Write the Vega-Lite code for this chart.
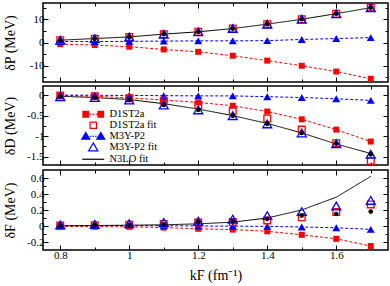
{
  "$schema": "https://vega.github.io/schema/vega-lite/v6.json",
  "padding": {"left": 2, "top": 0, "right": 2, "bottom": 2},
  "background": "white",
  "config": {
    "view": {"stroke": "black", "strokeWidth": 1.5},
    "font": "Liberation Serif",
    "axis": {"domain": false, "grid": false, "tickColor": "black", "tickWidth": 1, "labelColor": "black", "labelFont": "Liberation Serif", "labelFontSize": 11, "titleFont": "Liberation Serif", "titleFontSize": 14, "titleFontWeight": "normal", "titleColor": "black", "labelOverlap": false, "labelFlush": false}
  },
  "data": {"values": [
    {"p": "P", "x": 0.8, "D1ST2a": -0.7, "D1ST2a fit": 1.0, "M3Y-P2": 0.4, "M3Y-P2 fit": 1.0, "N3LO fit": 1.0, "N3LO": 1.0},
    {"p": "P", "x": 0.9, "D1ST2a": -1.1, "D1ST2a fit": 1.6, "M3Y-P2": 0.4, "M3Y-P2 fit": 1.7, "N3LO fit": 1.7, "N3LO": 1.7},
    {"p": "P", "x": 1.0, "D1ST2a": -1.8, "D1ST2a fit": 2.4, "M3Y-P2": 0.5, "M3Y-P2 fit": 2.4, "N3LO fit": 2.4, "N3LO": 2.4},
    {"p": "P", "x": 1.1, "D1ST2a": -3.0, "D1ST2a fit": 3.5, "M3Y-P2": 0.6, "M3Y-P2 fit": 3.6, "N3LO fit": 3.6, "N3LO": 3.6},
    {"p": "P", "x": 1.2, "D1ST2a": -4.0, "D1ST2a fit": 4.6, "M3Y-P2": 0.7, "M3Y-P2 fit": 4.6, "N3LO fit": 4.6, "N3LO": 4.6},
    {"p": "P", "x": 1.3, "D1ST2a": -5.7, "D1ST2a fit": 6.0, "M3Y-P2": 0.7, "M3Y-P2 fit": 6.0, "N3LO fit": 6.0, "N3LO": 6.0},
    {"p": "P", "x": 1.4, "D1ST2a": -7.8, "D1ST2a fit": 7.9, "M3Y-P2": 0.8, "M3Y-P2 fit": 7.9, "N3LO fit": 7.9, "N3LO": 7.9},
    {"p": "P", "x": 1.5, "D1ST2a": -10.0, "D1ST2a fit": 10.0, "M3Y-P2": 1.3, "M3Y-P2 fit": 10.0, "N3LO fit": 10.0, "N3LO": 10.0},
    {"p": "P", "x": 1.6, "D1ST2a": -12.5, "D1ST2a fit": 12.4, "M3Y-P2": 1.7, "M3Y-P2 fit": 12.4, "N3LO fit": 12.4, "N3LO": 12.4},
    {"p": "P", "x": 1.7, "D1ST2a": -15.6, "D1ST2a fit": 15.0, "M3Y-P2": 2.1, "M3Y-P2 fit": 15.0, "N3LO fit": 15.0, "N3LO": 15.0},
    {"p": "D", "x": 0.8, "D1ST2a": -0.01, "D1ST2a fit": -0.01, "M3Y-P2": 0.0, "M3Y-P2 fit": -0.04, "N3LO fit": -0.03, "N3LO": -0.04},
    {"p": "D", "x": 0.9, "D1ST2a": -0.03, "D1ST2a fit": -0.03, "M3Y-P2": -0.005, "M3Y-P2 fit": -0.06, "N3LO fit": -0.06, "N3LO": -0.06},
    {"p": "D", "x": 1.0, "D1ST2a": -0.07, "D1ST2a fit": -0.08, "M3Y-P2": -0.01, "M3Y-P2 fit": -0.12, "N3LO fit": -0.11, "N3LO": -0.12},
    {"p": "D", "x": 1.1, "D1ST2a": -0.12, "D1ST2a fit": -0.14, "M3Y-P2": -0.015, "M3Y-P2 fit": -0.24, "N3LO fit": -0.21, "N3LO": -0.24},
    {"p": "D", "x": 1.2, "D1ST2a": -0.18, "D1ST2a fit": -0.24, "M3Y-P2": -0.02, "M3Y-P2 fit": -0.36, "N3LO fit": -0.34, "N3LO": -0.36},
    {"p": "D", "x": 1.3, "D1ST2a": -0.26, "D1ST2a fit": -0.38, "M3Y-P2": -0.02, "M3Y-P2 fit": -0.5, "N3LO fit": -0.5, "N3LO": -0.5},
    {"p": "D", "x": 1.4, "D1ST2a": -0.4, "D1ST2a fit": -0.57, "M3Y-P2": -0.04, "M3Y-P2 fit": -0.7, "N3LO fit": -0.69, "N3LO": -0.7},
    {"p": "D", "x": 1.5, "D1ST2a": -0.59, "D1ST2a fit": -0.84, "M3Y-P2": -0.06, "M3Y-P2 fit": -0.92, "N3LO fit": -0.92, "N3LO": -0.92},
    {"p": "D", "x": 1.6, "D1ST2a": -0.84, "D1ST2a fit": -1.17, "M3Y-P2": -0.09, "M3Y-P2 fit": -1.18, "N3LO fit": -1.19, "N3LO": -1.18},
    {"p": "D", "x": 1.7, "D1ST2a": -1.13, "D1ST2a fit": -1.6, "M3Y-P2": -0.13, "M3Y-P2 fit": -1.44, "N3LO fit": -1.42, "N3LO": -1.44},
    {"p": "F", "x": 0.8, "D1ST2a": -0.005, "D1ST2a fit": 0.005, "M3Y-P2": 0.005, "M3Y-P2 fit": 0.012, "N3LO fit": 0.003, "N3LO": 0.005},
    {"p": "F", "x": 0.9, "D1ST2a": -0.008, "D1ST2a fit": 0.01, "M3Y-P2": 0.005, "M3Y-P2 fit": 0.02, "N3LO fit": 0.006, "N3LO": 0.01},
    {"p": "F", "x": 1.0, "D1ST2a": -0.01, "D1ST2a fit": 0.015, "M3Y-P2": 0.005, "M3Y-P2 fit": 0.03, "N3LO fit": 0.01, "N3LO": 0.015},
    {"p": "F", "x": 1.1, "D1ST2a": -0.02, "D1ST2a fit": 0.025, "M3Y-P2": 0.004, "M3Y-P2 fit": 0.045, "N3LO fit": 0.015, "N3LO": 0.02},
    {"p": "F", "x": 1.2, "D1ST2a": -0.035, "D1ST2a fit": 0.045, "M3Y-P2": 0.0, "M3Y-P2 fit": 0.06, "N3LO fit": 0.027, "N3LO": 0.05},
    {"p": "F", "x": 1.3, "D1ST2a": -0.045, "D1ST2a fit": 0.05, "M3Y-P2": -0.002, "M3Y-P2 fit": 0.086, "N3LO fit": 0.048, "N3LO": 0.06},
    {"p": "F", "x": 1.4, "D1ST2a": -0.066, "D1ST2a fit": 0.07, "M3Y-P2": -0.005, "M3Y-P2 fit": 0.13, "N3LO fit": 0.1, "N3LO": 0.09},
    {"p": "F", "x": 1.5, "D1ST2a": -0.11, "D1ST2a fit": 0.11, "M3Y-P2": -0.012, "M3Y-P2 fit": 0.18, "N3LO fit": 0.2, "N3LO": 0.13},
    {"p": "F", "x": 1.6, "D1ST2a": -0.16, "D1ST2a fit": 0.175, "M3Y-P2": -0.022, "M3Y-P2 fit": 0.25, "N3LO fit": 0.36, "N3LO": 0.15},
    {"p": "F", "x": 1.7, "D1ST2a": -0.25, "D1ST2a fit": 0.27, "M3Y-P2": -0.042, "M3Y-P2 fit": 0.32, "N3LO fit": 0.62, "N3LO": 0.18}
  ]},
  "transform": [{"fold": ["D1ST2a", "D1ST2a fit", "M3Y-P2", "M3Y-P2 fit", "N3LO fit", "N3LO"], "as": ["s", "y"]}],
  "spacing": 0,
  "vconcat": [
    {
      "width": 345, "height": 79,
      "transform": [{"filter": "datum.p == 'P'"}],
      "resolve": {"axis": {"x": "independent", "y": "independent"}},
      "layer": [
        {
          "transform": [{"filter": "indexof(['D1ST2a','M3Y-P2','N3LO fit'], datum.s) >= 0"}],
          "mark": {"type": "line", "strokeWidth": 1},
          "encoding": {
            "x": {"field": "x", "type": "quantitative", "scale": {"domain": [0.75, 1.75], "nice": false, "zero": false},
                  "axis": {"orient": "bottom", "values": [0.8, 0.9, 1.0, 1.1, 1.2, 1.3, 1.4, 1.5, 1.6, 1.7], "tickSize": {"condition": {"test": "round(datum.value*10)%2==0", "value": -5}, "value": -3}, "labels": false, "title": null}},
            "y": {"field": "y", "type": "quantitative", "scale": {"domain": [-17, 17], "nice": false, "zero": false},
                  "axis": {"orient": "left", "values": [-15, -10, -5, 0, 5, 10, 15], "tickSize": {"condition": {"test": "datum.value%10==0", "value": -5}, "value": -3}, "labelExpr": "datum.value%10==0 ? '' + datum.value : ''", "labelFontSize": {"condition": {"test": "datum.value%10==0", "value": 11}, "value": 0}, "labelPadding": 4, "minExtent": 21, "maxExtent": 21, "title": "δP (MeV)", "titlePadding": 5}},
            "color": {"field": "s", "type": "nominal", "scale": {"domain": ["D1ST2a", "M3Y-P2", "N3LO fit"], "range": ["#ff0000", "#0000ff", "#000000"]}, "legend": null},
            "strokeDash": {"field": "s", "type": "nominal", "scale": {"domain": ["D1ST2a", "M3Y-P2", "N3LO fit"], "range": [[3, 2], [3, 2], [1, 0]]}, "legend": null}
          }
        },
        {
          "transform": [{"filter": "datum.s == 'D1ST2a'"}],
          "mark": {"type": "square", "size": 36, "color": "#ff0000", "opacity": 1},
          "encoding": {
            "x": {"field": "x", "type": "quantitative", "axis": {"orient": "top", "values": [0.8, 0.9, 1.0, 1.1, 1.2, 1.3, 1.4, 1.5, 1.6, 1.7], "tickSize": {"condition": {"test": "round(datum.value*10)%2==0", "value": -5}, "value": -3}, "labels": false, "title": null}},
            "y": {"field": "y", "type": "quantitative", "axis": {"orient": "right", "values": [-15, -10, -5, 0, 5, 10, 15], "tickSize": {"condition": {"test": "datum.value%10==0", "value": -5}, "value": -3}, "labels": false, "title": null, "minExtent": 0, "maxExtent": 0}}
          }
        },
        {
          "transform": [{"filter": "datum.s == 'M3Y-P2'"}],
          "mark": {"type": "point", "shape": "triangle-up", "size": 64, "filled": true, "color": "#0000ff", "opacity": 1},
          "encoding": {"x": {"field": "x", "type": "quantitative", "axis": null}, "y": {"field": "y", "type": "quantitative", "axis": null}}
        },
        {
          "transform": [{"filter": "datum.s == 'D1ST2a fit'"}],
          "mark": {"type": "point", "shape": "square", "size": 45, "filled": false, "color": "#ff0000", "strokeWidth": 1.3, "opacity": 1},
          "encoding": {"x": {"field": "x", "type": "quantitative", "axis": null}, "y": {"field": "y", "type": "quantitative", "axis": null}}
        },
        {
          "transform": [{"filter": "datum.s == 'M3Y-P2 fit'"}],
          "mark": {"type": "point", "shape": "triangle-up", "size": 80, "filled": false, "color": "#0000ff", "strokeWidth": 1.3, "opacity": 1},
          "encoding": {"x": {"field": "x", "type": "quantitative", "axis": null}, "y": {"field": "y", "type": "quantitative", "axis": null}}
        },
        {
          "transform": [{"filter": "datum.s == 'N3LO'"}],
          "mark": {"type": "circle", "size": 22, "color": "#000000", "opacity": 1},
          "encoding": {"x": {"field": "x", "type": "quantitative", "axis": null}, "y": {"field": "y", "type": "quantitative", "axis": null}}
        }
      ]
    },
    {
      "width": 345, "height": 79,
      "transform": [{"filter": "datum.p == 'D'"}],
      "resolve": {"axis": {"x": "independent", "y": "independent"}},
      "layer": [
        {
          "transform": [{"filter": "indexof(['D1ST2a','M3Y-P2','N3LO fit'], datum.s) >= 0"}],
          "mark": {"type": "line", "strokeWidth": 1},
          "encoding": {
            "x": {"field": "x", "type": "quantitative", "scale": {"domain": [0.75, 1.75], "nice": false, "zero": false},
                  "axis": {"orient": "bottom", "values": [0.8, 0.9, 1.0, 1.1, 1.2, 1.3, 1.4, 1.5, 1.6, 1.7], "tickSize": {"condition": {"test": "round(datum.value*10)%2==0", "value": -5}, "value": -3}, "labels": false, "title": null}},
            "y": {"field": "y", "type": "quantitative", "scale": {"domain": [-1.7, 0.22], "nice": false, "zero": false},
                  "axis": {"orient": "left", "values": [0, -0.25, -0.5, -0.75, -1, -1.25, -1.5], "tickSize": {"condition": {"test": "round(datum.value*4)%2==0", "value": -5}, "value": -3}, "labelExpr": "round(datum.value*4)%2==0 ? '' + datum.value : ''", "labelFontSize": {"condition": {"test": "round(datum.value*4)%2==0", "value": 11}, "value": 0}, "labelPadding": 4, "minExtent": 21, "maxExtent": 21, "title": "δD (MeV)", "titlePadding": 5}},
            "color": {"field": "s", "type": "nominal", "scale": {"domain": ["D1ST2a", "M3Y-P2", "N3LO fit"], "range": ["#ff0000", "#0000ff", "#000000"]}, "legend": null},
            "strokeDash": {"field": "s", "type": "nominal", "scale": {"domain": ["D1ST2a", "M3Y-P2", "N3LO fit"], "range": [[3, 2], [3, 2], [1, 0]]}, "legend": null}
          }
        },
        {
          "transform": [{"filter": "datum.s == 'D1ST2a'"}],
          "mark": {"type": "square", "size": 36, "color": "#ff0000", "opacity": 1},
          "encoding": {
            "x": {"field": "x", "type": "quantitative", "axis": {"orient": "top", "values": [0.8, 0.9, 1.0, 1.1, 1.2, 1.3, 1.4, 1.5, 1.6, 1.7], "tickSize": {"condition": {"test": "round(datum.value*10)%2==0", "value": -5}, "value": -3}, "labels": false, "title": null}},
            "y": {"field": "y", "type": "quantitative", "axis": {"orient": "right", "values": [0, -0.25, -0.5, -0.75, -1, -1.25, -1.5], "tickSize": {"condition": {"test": "round(datum.value*4)%2==0", "value": -5}, "value": -3}, "labels": false, "title": null, "minExtent": 0, "maxExtent": 0}}
          }
        },
        {
          "transform": [{"filter": "datum.s == 'M3Y-P2'"}],
          "mark": {"type": "point", "shape": "triangle-up", "size": 64, "filled": true, "color": "#0000ff", "opacity": 1},
          "encoding": {"x": {"field": "x", "type": "quantitative", "axis": null}, "y": {"field": "y", "type": "quantitative", "axis": null}}
        },
        {
          "transform": [{"filter": "datum.s == 'D1ST2a fit'"}],
          "mark": {"type": "point", "shape": "square", "size": 45, "filled": false, "color": "#ff0000", "strokeWidth": 1.3, "opacity": 1},
          "encoding": {"x": {"field": "x", "type": "quantitative", "axis": null}, "y": {"field": "y", "type": "quantitative", "axis": null}}
        },
        {
          "transform": [{"filter": "datum.s == 'M3Y-P2 fit'"}],
          "mark": {"type": "point", "shape": "triangle-up", "size": 80, "filled": false, "color": "#0000ff", "strokeWidth": 1.3, "opacity": 1},
          "encoding": {"x": {"field": "x", "type": "quantitative", "axis": null}, "y": {"field": "y", "type": "quantitative", "axis": null}}
        },
        {
          "transform": [{"filter": "datum.s == 'N3LO'"}],
          "mark": {"type": "circle", "size": 22, "color": "#000000", "opacity": 1},
          "encoding": {"x": {"field": "x", "type": "quantitative", "axis": null}, "y": {"field": "y", "type": "quantitative", "axis": null}}
        },
        {
          "transform": [{"filter": "false"}],
          "mark": {"type": "point", "opacity": 1},
          "encoding": {
            "x": {"field": "x", "type": "quantitative", "axis": null},
            "y": {"field": "y", "type": "quantitative", "axis": null},
            "shape": {"field": "s", "type": "nominal",
              "scale": {"domain": ["D1ST2a", "D1ST2a fit", "M3Y-P2", "M3Y-P2 fit", "N3LO fit"],
                        "range": ["M-2.575,-0.7H-1.175V0.7H-2.575Z M1.175,-0.7H2.575V0.7H1.175Z M-1.175,0H-0.55 M-0.25,0H0.25 M0.55,0H1.175",
                                  "M-0.8,-0.8H0.8V0.8H-0.8Z",
                                  "M-1.875,-0.95L-2.875,0.75H-0.875Z M1.875,-0.95L0.875,0.75H2.875Z M-0.875,0H-0.45 M-0.2,0H0.2 M0.45,0H0.875",
                                  "M0,-1.05L-1.15,0.9H1.15Z",
                                  "M-2.75,0H2.75"]},
              "legend": {"title": null, "orient": "none", "legendX": 45, "legendY": 106, "symbolSize": 64, "symbolStrokeWidth": 1.2, "labelFont": "Liberation Serif", "labelFontSize": 10.5, "labelColor": "black", "labelOffset": 11, "rowPadding": -2, "padding": 0}},
            "fill": {"field": "s", "type": "nominal",
              "scale": {"domain": ["D1ST2a", "D1ST2a fit", "M3Y-P2", "M3Y-P2 fit", "N3LO fit"], "range": ["#ff0000", "transparent", "#0000ff", "transparent", "transparent"]},
              "legend": {"title": null, "orient": "none", "legendX": 45, "legendY": 106, "symbolSize": 64, "symbolStrokeWidth": 1.2, "labelFont": "Liberation Serif", "labelFontSize": 10.5, "labelColor": "black", "labelOffset": 11, "rowPadding": -2, "padding": 0}},
            "stroke": {"field": "s", "type": "nominal",
              "scale": {"domain": ["D1ST2a", "D1ST2a fit", "M3Y-P2", "M3Y-P2 fit", "N3LO fit"], "range": ["#ff0000", "#ff0000", "#0000ff", "#0000ff", "#000000"]},
              "legend": {"title": null, "orient": "none", "legendX": 45, "legendY": 106, "symbolSize": 64, "symbolStrokeWidth": 1.2, "labelFont": "Liberation Serif", "labelFontSize": 10.5, "labelColor": "black", "labelOffset": 11, "rowPadding": -2, "padding": 0}}
          }
        }
      ]
    },
    {
      "width": 345, "height": 80,
      "transform": [{"filter": "datum.p == 'F'"}],
      "resolve": {"axis": {"x": "independent", "y": "independent"}},
      "layer": [
        {
          "transform": [{"filter": "indexof(['D1ST2a','M3Y-P2','N3LO fit'], datum.s) >= 0"}],
          "mark": {"type": "line", "strokeWidth": 1},
          "encoding": {
            "x": {"field": "x", "type": "quantitative", "scale": {"domain": [0.75, 1.75], "nice": false, "zero": false},
                  "axis": {"orient": "bottom", "values": [0.8, 0.9, 1.0, 1.1, 1.2, 1.3, 1.4, 1.5, 1.6, 1.7], "tickSize": {"condition": {"test": "round(datum.value*10)%2==0", "value": -5}, "value": -3}, "labelExpr": "round(datum.value*10)%2==0 ? '' + datum.value : ''", "labelFontSize": {"condition": {"test": "round(datum.value*10)%2==0", "value": 11}, "value": 0}, "labelPadding": 4, "title": "kF (fm⁻¹)", "titlePadding": 8}},
            "y": {"field": "y", "type": "quantitative", "scale": {"domain": [-0.3, 0.7], "nice": false, "zero": false},
                  "axis": {"orient": "left", "values": [-0.2, -0.1, 0, 0.1, 0.2, 0.3, 0.4, 0.5, 0.6], "tickSize": {"condition": {"test": "round(datum.value*10)%2==0", "value": -5}, "value": -3}, "labelExpr": "round(datum.value*10)%2==0 ? '' + datum.value : ''", "labelFontSize": {"condition": {"test": "round(datum.value*10)%2==0", "value": 11}, "value": 0}, "labelPadding": 4, "minExtent": 21, "maxExtent": 21, "title": "δF (MeV)", "titlePadding": 5}},
            "color": {"field": "s", "type": "nominal", "scale": {"domain": ["D1ST2a", "M3Y-P2", "N3LO fit"], "range": ["#ff0000", "#0000ff", "#000000"]}, "legend": null},
            "strokeDash": {"field": "s", "type": "nominal", "scale": {"domain": ["D1ST2a", "M3Y-P2", "N3LO fit"], "range": [[3, 2], [3, 2], [1, 0]]}, "legend": null}
          }
        },
        {
          "transform": [{"filter": "datum.s == 'D1ST2a'"}],
          "mark": {"type": "square", "size": 36, "color": "#ff0000", "opacity": 1},
          "encoding": {
            "x": {"field": "x", "type": "quantitative", "axis": {"orient": "top", "values": [0.8, 0.9, 1.0, 1.1, 1.2, 1.3, 1.4, 1.5, 1.6, 1.7], "tickSize": {"condition": {"test": "round(datum.value*10)%2==0", "value": -5}, "value": -3}, "labels": false, "title": null}},
            "y": {"field": "y", "type": "quantitative", "axis": {"orient": "right", "values": [-0.2, -0.1, 0, 0.1, 0.2, 0.3, 0.4, 0.5, 0.6], "tickSize": {"condition": {"test": "round(datum.value*10)%2==0", "value": -5}, "value": -3}, "labels": false, "title": null, "minExtent": 0, "maxExtent": 0}}
          }
        },
        {
          "transform": [{"filter": "datum.s == 'M3Y-P2'"}],
          "mark": {"type": "point", "shape": "triangle-up", "size": 64, "filled": true, "color": "#0000ff", "opacity": 1},
          "encoding": {"x": {"field": "x", "type": "quantitative", "axis": null}, "y": {"field": "y", "type": "quantitative", "axis": null}}
        },
        {
          "transform": [{"filter": "datum.s == 'D1ST2a fit'"}],
          "mark": {"type": "point", "shape": "square", "size": 45, "filled": false, "color": "#ff0000", "strokeWidth": 1.3, "opacity": 1},
          "encoding": {"x": {"field": "x", "type": "quantitative", "axis": null}, "y": {"field": "y", "type": "quantitative", "axis": null}}
        },
        {
          "transform": [{"filter": "datum.s == 'M3Y-P2 fit'"}],
          "mark": {"type": "point", "shape": "triangle-up", "size": 80, "filled": false, "color": "#0000ff", "strokeWidth": 1.3, "opacity": 1},
          "encoding": {"x": {"field": "x", "type": "quantitative", "axis": null}, "y": {"field": "y", "type": "quantitative", "axis": null}}
        },
        {
          "transform": [{"filter": "datum.s == 'N3LO'"}],
          "mark": {"type": "circle", "size": 22, "color": "#000000", "opacity": 1},
          "encoding": {"x": {"field": "x", "type": "quantitative", "axis": null}, "y": {"field": "y", "type": "quantitative", "axis": null}}
        }
      ]
    }
  ]
}
